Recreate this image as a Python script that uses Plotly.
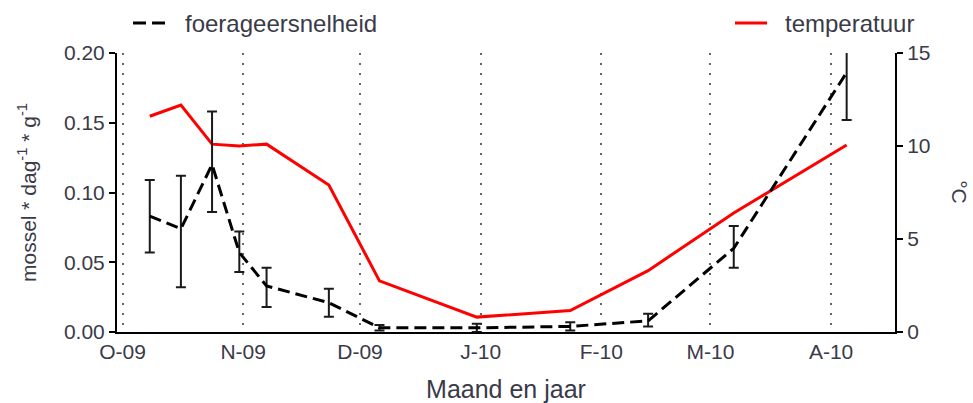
import plotly.graph_objects as go

# ---- data ----
dates = ["2009-10-08", "2009-10-16", "2009-10-24", "2009-10-31", "2009-11-07",
         "2009-11-23", "2009-12-06", "2009-12-31", "2010-01-24", "2010-02-13",
         "2010-03-07", "2010-04-05"]
foerage = [0.083, 0.074, 0.120, 0.057, 0.033, 0.021, 0.003, 0.003, 0.004, 0.008, 0.060, 0.186]
foerage_err_plus = [0.026, 0.038, 0.038, 0.015, 0.013, 0.010, 0.002, 0.003, 0.003, 0.005, 0.016, 0.034]
foerage_err_minus = [0.026, 0.042, 0.034, 0.014, 0.015, 0.010, 0.002, 0.003, 0.003, 0.004, 0.014, 0.034]
temperatuur = [11.6, 12.2, 10.1, 10.0, 10.1, 7.9, 2.75, 0.8, 1.15, 3.3, 6.4, 10.05]

month_ticks = ["2009-10-01", "2009-11-01", "2009-12-01", "2010-01-01",
               "2010-02-01", "2010-03-01", "2010-04-01"]
month_labels = ["O-09", "N-09", "D-09", "J-10", "F-10", "M-10", "A-10"]
left_ticks = [0.00, 0.05, 0.10, 0.15, 0.20]
right_ticks = [0, 5, 10, 15]
series_names = ["foerageersnelheid", "temperatuur"]

FONT = "Liberation Sans, Arial, sans-serif"
TXT = "#3a3a48"
FORAGE_DASH = "12px,6px"

fig = go.Figure()
fig.add_trace(go.Scatter(
    x=dates, y=temperatuur, mode="lines", name=series_names[1],
    line=dict(color="#ff0000", width=3), yaxis="y", showlegend=False))
fig.add_trace(go.Scatter(
    x=dates, y=foerage, mode="lines", name=series_names[0],
    line=dict(color="#000000", width=3, dash=FORAGE_DASH),
    error_y=dict(type="data", symmetric=False, array=foerage_err_plus,
                 arrayminus=foerage_err_minus, color="#1a1a1a",
                 thickness=2, width=5),
    yaxis="y2", showlegend=False))

# legend (two separate entries above the plot, as in the original)
LEG_Y = 1.1075
legend_shapes = [
    dict(type="line", xref="paper", yref="paper", x0=0.0206, x1=0.0617,
         y0=LEG_Y, y1=LEG_Y, line=dict(color="#000000", width=3, dash="13px,6px")),
    dict(type="line", xref="paper", yref="paper", x0=0.7943, x1=0.8355,
         y0=LEG_Y, y1=LEG_Y, line=dict(color="#ff0000", width=3)),
]
legend_texts = [
    dict(text=series_names[0], x=0.0848, y=LEG_Y, xanchor="left", yanchor="middle",
         xref="paper", yref="paper", showarrow=False, font=dict(size=24, color=TXT)),
    dict(text=series_names[1], x=0.8560, y=LEG_Y, xanchor="left", yanchor="middle",
         xref="paper", yref="paper", showarrow=False, font=dict(size=24, color=TXT)),
]

fig.update_layout(
    width=973, height=403, showlegend=False,
    margin=dict(l=117, r=78, t=53, b=71),
    paper_bgcolor="white", plot_bgcolor="white",
    font=dict(family=FONT, size=21, color=TXT),
    xaxis=dict(
        type="date", range=["2009-09-29 14:00", "2010-04-17 10:00"],
        tickvals=month_ticks, ticktext=month_labels, ticks="",
        showgrid=True, griddash="2px,8px", gridcolor="#666666", gridwidth=1.5,
        showline=True, linecolor="#000000", linewidth=2, zeroline=False,
        automargin=False,
        title=dict(text="Maand en jaar", standoff=18),
        tickfont=dict(size=21, color=TXT)),
    yaxis=dict(
        side="right", range=[0, 15], tickvals=right_ticks,
        ticks="outside", ticklen=6, tickwidth=2, tickcolor="#000000",
        showline=True, linecolor="#000000", linewidth=2, automargin=False,
        showgrid=False, zeroline=False, tickfont=dict(size=21, color=TXT)),
    yaxis2=dict(
        side="left", overlaying="y", range=[0, 0.2], tickvals=left_ticks,
        tickformat=".2f", ticks="outside", ticklen=6, tickwidth=2,
        tickcolor="#000000", showline=True, linecolor="#000000", linewidth=2,
        automargin=False,
        showgrid=False, zeroline=False, tickfont=dict(size=21, color=TXT),
        title=dict(text="mossel * dag<sup>-1</sup> * g<sup>-1</sup>", standoff=22,
                   font=dict(size=21, color=TXT))),
    shapes=legend_shapes,
    annotations=legend_texts + [
        dict(text="°C", textangle=90, x=1.10, y=0.5, xref="paper",
             yref="paper", showarrow=False, font=dict(size=21, color=TXT))],
)

fig.write_html("out.html")
